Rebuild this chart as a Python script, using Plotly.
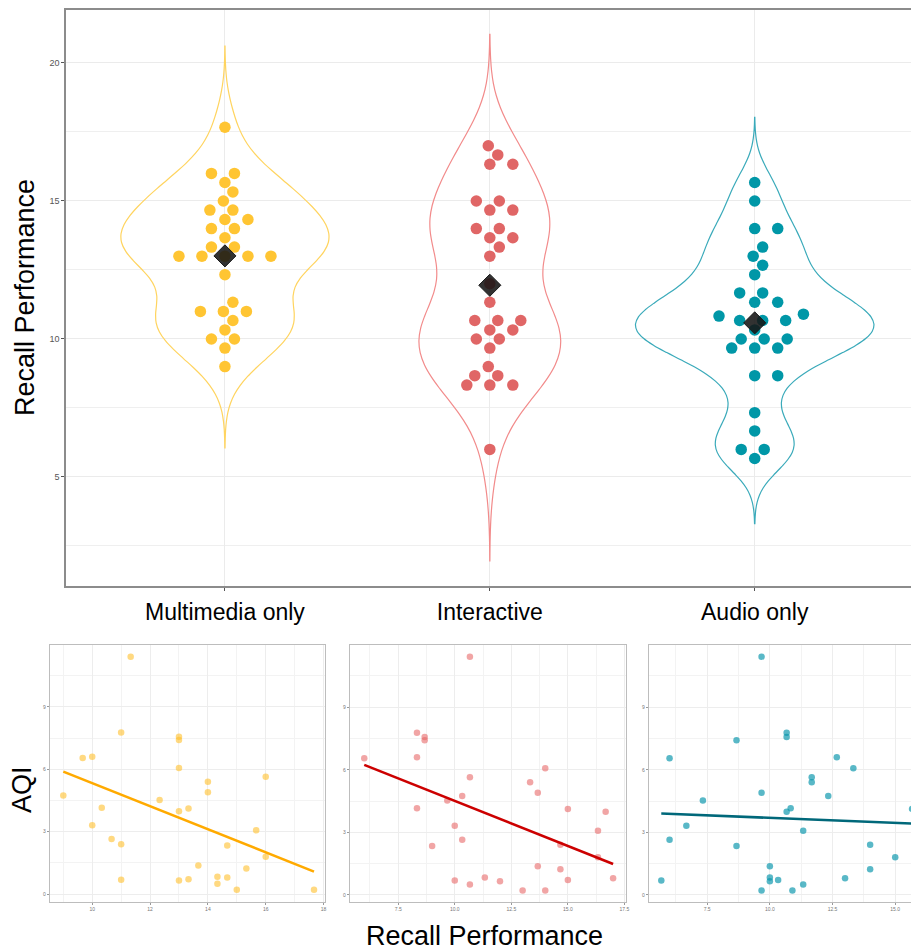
import numpy as np
import plotly.graph_objects as go

W, H = 911, 952

groups = ["Multimedia only", "Interactive", "Audio only"]

# AQI per participant (shared across the three conditions)
aqi = [11.42, 7.77, 7.57, 7.41, 6.55, 6.60, 6.07, 5.64, 5.40, 4.90, 4.74, 4.52,
       4.15, 4.12, 3.99, 3.31, 3.07, 2.65, 2.40, 2.34, 1.80, 1.37, 1.23, 0.83,
       0.80, 0.71, 0.69, 0.66, 0.50, 0.21, 0.21]

# Recall performance per participant, per condition
multimedia = [11.33, 11.0, 13.0, 13.0, 9.67, 10.0, 13.0, 16.0, 14.0, 14.0, 9.0, 12.33,
              10.33, 13.33, 13.0, 10.0, 15.67, 10.67, 11.0, 14.67, 16.0, 13.67, 15.33,
              14.33, 14.67, 13.33, 11.0, 13.0, 14.33, 15.0, 17.67]
interactive = [10.67, 8.33, 8.67, 8.67, 6.0, 8.33, 14.0, 10.67, 13.33, 13.67, 10.33, 9.67,
               8.33, 15.0, 16.67, 10.0, 16.33, 10.33, 14.67, 9.0, 16.33, 13.67, 14.67,
               11.33, 17.0, 15.0, 10.0, 12.0, 10.67, 13.0, 14.0]
audio = [9.67, 10.67, 10.67, 8.67, 6.0, 12.67, 13.33, 11.67, 11.67, 9.67, 12.33, 7.33,
         10.83, 15.67, 10.67, 6.67, 11.33, 6.0, 14.0, 8.67, 15.0, 10.0, 14.0, 10.0,
         13.0, 10.33, 5.67, 10.0, 11.33, 9.67, 10.9]

series = [multimedia, interactive, audio]

dot_colors = ["#FFC533", "#E06666", "#0097A7"]
violin_colors = ["#FFD45F", "#F28B8B", "#3AAABA"]
scatter_colors = ["rgba(255,192,45,0.6)", "rgba(232,105,105,0.6)", "rgba(10,150,172,0.68)"]
line_colors = ["#FFAA00", "#CC0000", "#00687A"]

FONT = "Liberation Sans"

# ---------- top panel geometry ----------
top_x_dom = [66 / W, 1.0]
top_y_dom = [1 - 586 / H, 1 - 10 / H]
top_x_range = [0.4, 3.59]
top_y_range = [1.05, 21.92]
px_x = (top_x_dom[1] - top_x_dom[0]) * W / (top_x_range[1] - top_x_range[0])
px_y = (top_y_dom[1] - top_y_dom[0]) * H / (top_y_range[1] - top_y_range[0])


def silverman(v):
    v = np.asarray(v, float)
    sd = v.std(ddof=1)
    q75, q25 = np.percentile(v, [75, 25])
    return 0.9 * min(sd, (q75 - q25) / 1.34) * len(v) ** -0.2


def kde_max(v, bw):
    v = np.asarray(v, float)
    g = np.linspace(v.min() - 3 * bw, v.max() + 3 * bw, 600)
    d = np.exp(-0.5 * ((g[:, None] - v[None, :]) / bw) ** 2).sum(1) / (len(v) * bw * np.sqrt(2 * np.pi))
    return d.max()


def beeswarm(v, Dx=23.0, Dy=10.0):
    v = np.asarray(v, float)
    order = np.argsort(v, kind="stable")
    placed = []
    offs = np.zeros(len(v))
    for i in order:
        yi = v[i] * px_y
        near = []
        cands = [0.0]
        for xj, yj in placed:
            dy = yi - yj
            if abs(dy) < Dy:
                r = Dx * np.sqrt(1 - (dy / Dy) ** 2)
                near.append((xj, r))
                cands += [xj + r, xj - r]
        valid = [c for c in cands if all(abs(c - xj) >= r - 1e-6 for xj, r in near)]
        best = min(valid, key=lambda c: (round(abs(c), 6), -c))
        offs[i] = best
        placed.append((best, yi))
    return offs / px_x


bws = [silverman(s) for s in series]
maxd = [kde_max(s, b) for s, b in zip(series, bws)]
widths = [0.9 * m / max(maxd) for m in maxd]

fig = go.Figure()

for k, (name, vals) in enumerate(zip(groups, series)):
    pos = k + 1
    bw = bws[k]
    fig.add_trace(go.Violin(
        x=[pos] * len(vals), y=vals, width=widths[k], scalemode="width",
        spanmode="manual", span=[min(vals) - 3 * bw, max(vals) + 3 * bw],
        bandwidth=bw, points=False, fillcolor="rgba(255,255,255,0)",
        line=dict(color=violin_colors[k], width=1.2), box_visible=False,
        meanline_visible=False, hoverinfo="skip", showlegend=False,
        xaxis="x", yaxis="y"))
    offs = beeswarm(vals)
    fig.add_trace(go.Scatter(
        x=pos + offs, y=vals, mode="markers",
        marker=dict(size=11.5, color=dot_colors[k], line=dict(width=0)),
        showlegend=False, xaxis="x", yaxis="y", cliponaxis=True))
    fig.add_trace(go.Scatter(
        x=[pos], y=[float(np.mean(vals))], mode="markers",
        marker=dict(symbol="diamond", size=17, color="rgba(22,22,22,0.88)",
                    line=dict(width=1, color="#1a1a1a")),
        showlegend=False, xaxis="x", yaxis="y"))

# ---------- bottom scatter panels ----------
bot_y_dom = [1 - 902 / H, 1 - 645 / H]
panel_x_doms = [[50 / W, 325 / W], [350 / W, 626 / W], [649 / W, 1.0]]
panel_x_ranges = [[8.54, 18.05], [5.37, 17.57], [5.18, 15.63]]
panel_y_ranges = [[-0.38, 11.98], [-0.34, 11.98], [-0.34, 11.98]]
panel_dticks = [2, 2.5, 2.5]

for k, vals in enumerate(series):
    ax = str(k + 2)
    fig.add_trace(go.Scatter(
        x=vals, y=aqi, mode="markers",
        marker=dict(size=6.5, color=scatter_colors[k], line=dict(width=0)),
        showlegend=False, xaxis="x" + ax, yaxis="y" + ax))
    slope, inter = np.polyfit(vals, aqi, 1)
    xs = np.array([min(vals), max(vals)])
    fig.add_trace(go.Scatter(
        x=xs, y=slope * xs + inter, mode="lines",
        line=dict(color=line_colors[k], width=2.6),
        showlegend=False, xaxis="x" + ax, yaxis="y" + ax))

layout = dict(
    width=W, height=H, margin=dict(l=0, r=0, t=0, b=0, autoexpand=False),
    paper_bgcolor="white", plot_bgcolor="white",
    violinmode="overlay", showlegend=False,
    font=dict(family=FONT, color="black"),
    xaxis=dict(domain=top_x_dom, anchor="y", range=top_x_range, automargin=False,
               tickvals=[1, 2, 3], ticktext=groups,
               tickfont=dict(size=23, color="black", family=FONT),
               ticks="outside", ticklen=3, tickcolor="#555", ticklabelstandoff=2,
               showgrid=True, gridcolor="#EBEBEB", gridwidth=1.2,
               showline=True, linecolor="#8c8c8c", linewidth=1.5, mirror=True,
               zeroline=False),
    yaxis=dict(domain=top_y_dom, anchor="x", range=top_y_range, automargin=False,
               tick0=0, dtick=5, tickfont=dict(size=9, color="#555"),
               ticks="outside", ticklen=3, tickcolor="#555",
               showgrid=True, gridcolor="#EBEBEB", gridwidth=1.2,
               minor=dict(dtick=2.5, tick0=0, showgrid=True, gridcolor="#EFEFEF", gridwidth=1),
               showline=True, linecolor="#8c8c8c", linewidth=1.5, mirror=True,
               zeroline=False),
)

for k in range(3):
    ax = str(k + 2)
    d = panel_dticks[k]
    layout["xaxis" + ax] = dict(
        domain=panel_x_doms[k], anchor="y" + ax, range=panel_x_ranges[k], automargin=False,
        tick0=0, dtick=d, tickformat=".0f" if d == 2 else ".1f",
        tickfont=dict(size=5, color="#777"), ticks="outside", ticklen=2,
        tickcolor="#999", showgrid=True, gridcolor="#EDEDED", gridwidth=1,
        minor=dict(dtick=d / 2, tick0=0, showgrid=True, gridcolor="#F3F3F3", gridwidth=1),
        showline=True, linecolor="#BDBDBD", linewidth=1.2, mirror=True, zeroline=False)
    layout["yaxis" + ax] = dict(
        domain=bot_y_dom, anchor="x" + ax, range=panel_y_ranges[k], automargin=False,
        tickvals=[0, 3, 6, 9], tickfont=dict(size=5, color="#777"),
        ticks="outside", ticklen=2, tickcolor="#999",
        showgrid=True, gridcolor="#EDEDED", gridwidth=1,
        minor=dict(dtick=1.5, tick0=0, showgrid=True, gridcolor="#F3F3F3", gridwidth=1),
        showline=True, linecolor="#BDBDBD", linewidth=1.2, mirror=True, zeroline=False)

layout["annotations"] = [
    dict(text="Recall Performance", x=25 / W, y=1 - 298 / H, xref="paper", yref="paper",
         textangle=-90, showarrow=False, font=dict(size=27, color="black", family=FONT),
         xanchor="center", yanchor="middle"),
    dict(text="AQI", x=22 / W, y=1 - 790 / H, xref="paper", yref="paper",
         textangle=-90, showarrow=False, font=dict(size=27, color="black", family=FONT),
         xanchor="center", yanchor="middle"),
    dict(text="Recall Performance", x=485 / W, y=1 - 936 / H, xref="paper", yref="paper",
         showarrow=False, font=dict(size=27, color="black", family=FONT),
         xanchor="center", yanchor="middle"),
]

fig.update_layout(**layout)
fig.write_html("out.html", config={"displayModeBar": False},
               post_script="document.body.style.margin='0px';document.body.style.overflow='hidden';")
